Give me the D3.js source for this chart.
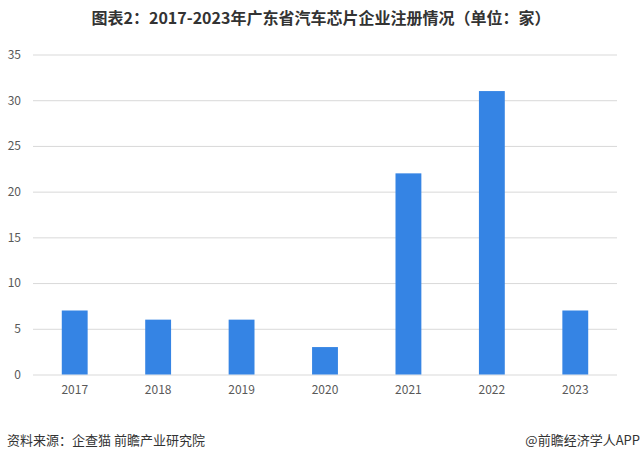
<!DOCTYPE html>
<html>
<head>
<meta charset="utf-8">
<script src="https://cdn.jsdelivr.net/npm/d3@7"></script>
<style>
  html, body { margin: 0; padding: 0; background: #fff; }
  svg { display: block; }
</style>
</head>
<body>
<svg id="chart" width="642" height="462"></svg>
<script>
const title = "图表2：2017-2023年广东省汽车芯片企业注册情况（单位：家）";
const categories = ["2017", "2018", "2019", "2020", "2021", "2022", "2023"];
const values = [7, 6, 6, 3, 22, 31, 7];
const yTicks = [0, 5, 10, 15, 20, 25, 30, 35];
const sourceText = "资料来源：企查猫 前瞻产业研究院";
const brandText = "@前瞻经济学人APP";

const svg = d3.select("#chart");
const font = "'Microsoft YaHei','Noto Sans CJK SC','Noto Sans',sans-serif";

const margin = { left: 33, right: 25, top: 54.5, bottom: 87.5 };
const W = 642, H = 462;

const x = d3.scaleBand()
  .domain(categories)
  .range([margin.left, W - margin.right])
  .paddingInner(0.69)
  .paddingOuter(0.345);

const y = d3.scaleLinear()
  .domain([0, 35])
  .range([H - margin.bottom, margin.top]);

// title
svg.append("text")
  .attr("x", 321).attr("y", 24)
  .attr("text-anchor", "middle")
  .attr("font-family", font)
  .attr("font-size", 16)
  .attr("font-weight", "bold")
  .attr("fill", "#333")
  .text(title);

// gridlines
const yAxis = d3.axisLeft(y).tickValues(yTicks).tickSize(-(W - margin.left - margin.right)).tickPadding(12);
const gy = svg.append("g")
  .attr("transform", `translate(${margin.left},0)`)
  .call(yAxis);
gy.select(".domain").remove();
gy.selectAll(".tick line").attr("stroke", "#d9d9d9").attr("stroke-width", 1);
gy.selectAll(".tick text")
  .attr("font-family", font)
  .attr("font-size", 12)
  .attr("fill", "#595959");

// bars
svg.append("g")
  .selectAll("rect")
  .data(values)
  .join("rect")
  .attr("x", (d, i) => x(categories[i]))
  .attr("y", d => y(d))
  .attr("width", x.bandwidth())
  .attr("height", d => y(0) - y(d))
  .attr("fill", "#3584e4");

// x axis
const gx = svg.append("g")
  .attr("transform", `translate(0,${y(0)})`)
  .call(d3.axisBottom(x).tickSize(0).tickPadding(11));
gx.select(".domain").remove();
gx.selectAll(".tick text")
  .attr("font-family", font)
  .attr("font-size", 12)
  .attr("fill", "#595959");

// footer
svg.append("text")
  .attr("x", 7).attr("y", 445)
  .attr("font-family", font)
  .attr("font-size", 13)
  .attr("fill", "#333")
  .text(sourceText);
svg.append("text")
  .attr("x", 640).attr("y", 445)
  .attr("text-anchor", "end")
  .attr("font-family", font)
  .attr("font-size", 13)
  .attr("fill", "#333")
  .text(brandText);
</script>
</body>
</html>
